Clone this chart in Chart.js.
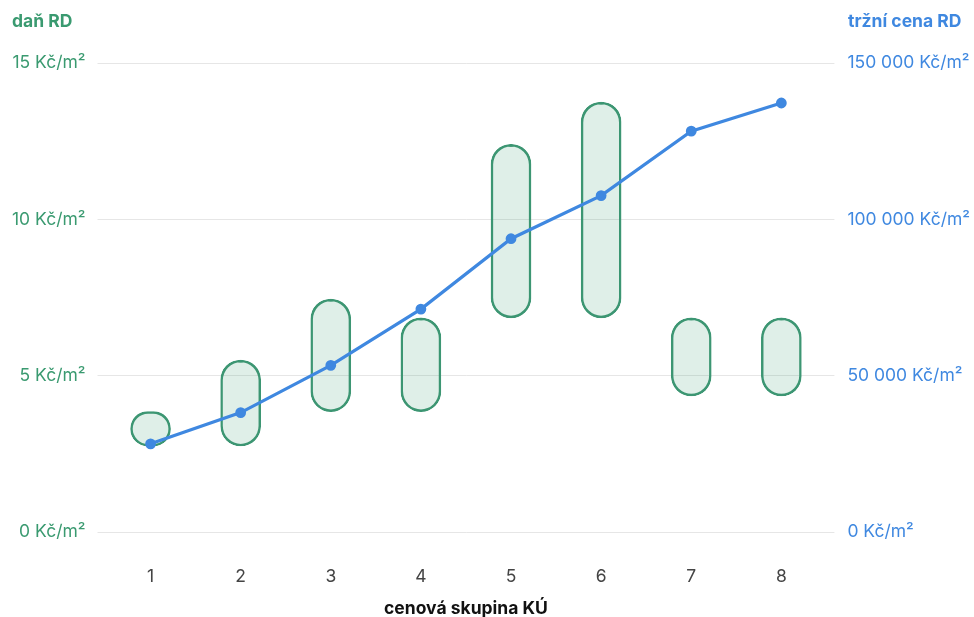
<!DOCTYPE html>
<html>
<head>
<meta charset="utf-8">
<script src="https://cdn.jsdelivr.net/npm/chart.js@4/dist/chart.umd.min.js"></script>
<style>
  html, body { margin: 0; padding: 0; background: #fff; }
  #wrap { width: 974px; height: 617px; }
</style>
</head>
<body>
<div id="wrap"><canvas id="myChart"></canvas></div>
<script>
var groups = ["1", "2", "3", "4", "5", "6", "7", "8"];
// tax range per price group (Kč/m²)
var taxLow = [2.75, 2.75, 3.85, 3.85, 6.85, 6.85, 4.35, 4.35];
var taxHigh = [3.85, 5.5, 7.45, 6.85, 12.4, 13.75, 6.85, 6.85];
// market price (Kč/m²)
var marketPrice = [28200, 38200, 53300, 71300, 93800, 107600, 128200, 137200];
var taxTicks = [0, 5, 10, 15];
var priceTicks = [0, 50000, 100000, 150000];

var green = "#3a9a70";
var blue = "#3f88e0";

var taxRanges = taxLow.map(function(v, i) { return [v, taxHigh[i]]; });

function fmtThousands(v) {
    return String(v).replace(/\B(?=(\d{3})+(?!\d))/g, " ");
}

// axis titles drawn horizontally above each y axis
var axisTitles = {
    id: 'axisTitles',
    afterDraw: function(chart) {
        var c = chart.ctx;
        c.save();
        c.font = "bold 17.5px Inter";
        c.textBaseline = "middle";
        c.fillStyle = green;
        c.textAlign = "left";
        c.fillText("daň RD", 12, 22);
        c.fillStyle = blue;
        c.fillText("tržní cena RD", 848, 22);
        c.restore();
    }
};

Chart.defaults.font.family = "Inter";
Chart.defaults.font.size = 17.5;

var ctx = document.getElementById("myChart").getContext("2d");
window.myChart = new Chart(ctx, {
    data: {
        labels: groups,
        datasets: [{
            type: 'line',
            label: "tržní cena RD",
            data: marketPrice,
            yAxisID: 'y2',
            borderColor: blue,
            backgroundColor: blue,
            borderWidth: 3.2,
            pointRadius: 3.8,
            pointHoverRadius: 3.8,
            tension: 0,
            order: 0
        }, {
            type: 'bar',
            label: "daň RD",
            data: taxRanges,
            yAxisID: 'y',
            backgroundColor: "rgba(58,154,112,0.16)",
            borderColor: "#3d9673",
            borderWidth: 1.8,
            borderRadius: 40,
            borderSkipped: false,
            barThickness: 40,
            order: 1
        }]
    },
    options: {
        responsive: true,
        maintainAspectRatio: false,
        animation: false,
        layout: { padding: { top: 63, right: -9, left: 0, bottom: -2 } },
        plugins: {
            legend: { display: false },
            tooltip: { enabled: false }
        },
        scales: {
            x: {
                grid: { display: false },
                border: { display: false },
                ticks: { color: "#444", padding: 26 },
                title: {
                    display: true,
                    text: "cenová skupina KÚ",
                    color: "#111",
                    font: { weight: 'bold', size: 17.5 },
                    padding: { top: -15, bottom: 0 }
                }
            },
            y: {
                position: 'left',
                min: 0,
                max: 15,
                afterBuildTicks: function(axis) {
                    axis.ticks = taxTicks.map(function(v) { return { value: v }; });
                },
                grid: { color: "#e6e6e6", tickLength: 8 },
                border: { display: false },
                ticks: {
                    color: green,
                    padding: 12,
                    callback: function(v) { return v + " Kč/m²"; }
                }
            },
            y2: {
                position: 'right',
                min: 0,
                max: 150000,
                afterBuildTicks: function(axis) {
                    axis.ticks = priceTicks.map(function(v) { return { value: v }; });
                },
                grid: { drawOnChartArea: false, color: "#e6e6e6", tickLength: 8 },
                border: { display: false },
                ticks: {
                    color: blue,
                    padding: 13,
                    callback: function(v) { return fmtThousands(v) + " Kč/m²"; }
                }
            }
        }
    },
    plugins: [axisTitles]
});
</script>
</body>
</html>
